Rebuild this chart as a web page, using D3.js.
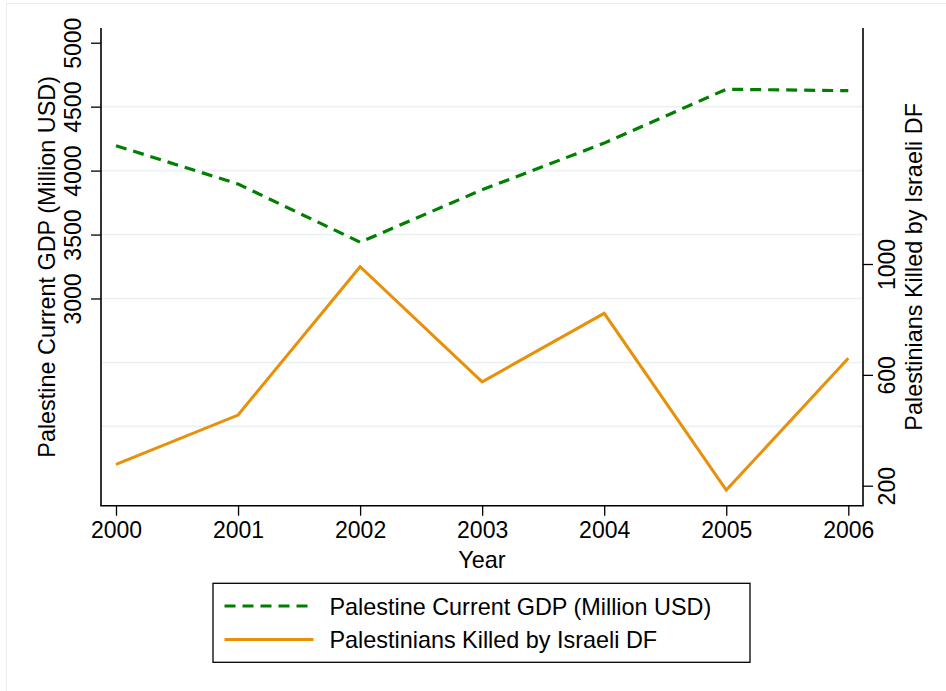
<!DOCTYPE html>
<html>
<head>
<meta charset="utf-8">
<script src="https://cdn.jsdelivr.net/npm/d3@7"></script>
<style>
  html, body { margin: 0; padding: 0; background: #fff; }
  svg { display: block; font-family: "Liberation Sans", Arial, Helvetica, sans-serif; }
</style>
</head>
<body>
<svg id="chart" width="946" height="691"></svg>
<script>
// ---- data ----
const years = [2000, 2001, 2002, 2003, 2004, 2005, 2006];
const gdp = [4195, 3895, 3440, 3850, 4215, 4636, 4625];
const killed = [277, 455, 990, 575, 822, 184, 660];
const gdpTicks = [3000, 3500, 4000, 4500, 5000];
const gdpGrid = [2000, 2500, 3000, 3500, 4000, 4500];
const killedTicks = [200, 600, 1000];
const gdpLabel = "Palestine Current GDP (Million USD)";
const killedLabel = "Palestinians Killed by Israeli DF";
const xLabel = "Year";

// ---- layout ----
const plot = { left: 101, right: 863, top: 28, bottom: 505.7 };
const FS = 23.4;
const TFS = 23;
const green = "#007f00";
const orange = "#e8900a";

const svg = d3.select("#chart");

// outer frame (graph region border)
svg.append("rect").attr("x", 6.5).attr("y", 3.5).attr("width", 1200).attr("height", 1200)
  .attr("fill", "none").attr("stroke", "#e6eef0").attr("stroke-width", 1);

const x = d3.scaleLinear().domain([2000, 2006]).range([116, 848.3]);
const yL = d3.scaleLinear().domain([3000, 5000]).range([298.5, 42.7]);
const yR = d3.scaleLinear().domain([200, 1000]).range([485.7, 264]);

// gridlines
svg.append("g").selectAll("line").data(gdpGrid).join("line")
  .attr("x1", plot.left).attr("x2", plot.right)
  .attr("y1", d => yL(d)).attr("y2", d => yL(d))
  .attr("stroke", "#eaf1f2").attr("stroke-width", 1.6);

// axis lines
const axisStroke = { stroke: "#000", w: 1.6 };
svg.append("line").attr("x1", plot.left).attr("x2", plot.left).attr("y1", plot.top).attr("y2", plot.bottom)
  .attr("stroke", axisStroke.stroke).attr("stroke-width", axisStroke.w);
svg.append("line").attr("x1", plot.right).attr("x2", plot.right).attr("y1", plot.top).attr("y2", plot.bottom)
  .attr("stroke", axisStroke.stroke).attr("stroke-width", axisStroke.w);
svg.append("line").attr("x1", plot.left - 0.8).attr("x2", plot.right + 0.8).attr("y1", plot.bottom).attr("y2", plot.bottom)
  .attr("stroke", axisStroke.stroke).attr("stroke-width", axisStroke.w);

function styleAxis(g) {
  g.select(".domain").remove();
  g.selectAll(".tick line").attr("stroke", "#000").attr("stroke-width", 1.3);
  g.selectAll(".tick text").attr("fill", "#000").style("font-size", TFS + "px")
    .style("font-family", '"Liberation Sans", Arial, Helvetica, sans-serif');
}

// left axis
const gL = svg.append("g").attr("transform", `translate(${plot.left},0)`)
  .call(d3.axisLeft(yL).tickValues(gdpTicks).tickSize(10).tickFormat(d3.format("d")));
styleAxis(gL);
gL.selectAll(".tick text").attr("x", null).attr("dy", null)
  .attr("text-anchor", "middle").attr("transform", "translate(-20,0) rotate(-90)");

// right axis
const gR = svg.append("g").attr("transform", `translate(${plot.right},0)`)
  .call(d3.axisRight(yR).tickValues(killedTicks).tickSize(10).tickFormat(d3.format("d")));
styleAxis(gR);
gR.selectAll(".tick text").attr("x", null).attr("dy", null)
  .attr("text-anchor", "middle").attr("transform", "translate(32,0) rotate(-90)");

// bottom axis
const gB = svg.append("g").attr("transform", `translate(0,${plot.bottom})`)
  .call(d3.axisBottom(x).tickValues(years).tickSize(10).tickFormat(d3.format("d")));
styleAxis(gB);
gB.selectAll(".tick text").attr("y", 32.8).attr("dy", null);

// axis titles
svg.append("text").attr("transform", `translate(54.5,${(plot.top + plot.bottom) / 2}) rotate(-90)`)
  .attr("text-anchor", "middle").style("font-size", FS + "px").text(gdpLabel);
svg.append("text").attr("transform", `translate(921.5,${(plot.top + plot.bottom) / 2}) rotate(-90)`)
  .attr("text-anchor", "middle").style("font-size", FS + "px").text(killedLabel);
svg.append("text").attr("x", (plot.left + plot.right) / 2).attr("y", 567.8)
  .attr("text-anchor", "middle").style("font-size", FS + "px").text(xLabel);

// lines
const lineGdp = d3.line().x((d, i) => x(years[i])).y(d => yL(d));
const lineKilled = d3.line().x((d, i) => x(years[i])).y(d => yR(d));

svg.append("path").datum(gdp).attr("d", lineGdp)
  .attr("fill", "none").attr("stroke", green).attr("stroke-width", 3.2)
  .attr("stroke-dasharray", "11,7").attr("stroke-linejoin", "miter");
svg.append("path").datum(killed).attr("d", lineKilled)
  .attr("fill", "none").attr("stroke", orange).attr("stroke-width", 3)
  .attr("stroke-linejoin", "miter");

// legend
const leg = svg.append("g");
leg.append("rect").attr("x", 213).attr("y", 583.3).attr("width", 537).attr("height", 79)
  .attr("fill", "#fff").attr("stroke", "#000").attr("stroke-width", 1.3);
const items = [
  { label: gdpLabel, color: green, dash: "11,7", y: 606 },
  { label: killedLabel, color: orange, dash: null, y: 639.5 }
];
items.forEach(it => {
  const l = leg.append("line").attr("x1", 224.5).attr("x2", 313.5).attr("y1", it.y).attr("y2", it.y)
    .attr("stroke", it.color).attr("stroke-width", 3);
  if (it.dash) l.attr("stroke-dasharray", it.dash);
  leg.append("text").attr("x", 329.5).attr("y", it.y + 8.5).style("font-size", FS + "px").text(it.label);
});
</script>
</body>
</html>
